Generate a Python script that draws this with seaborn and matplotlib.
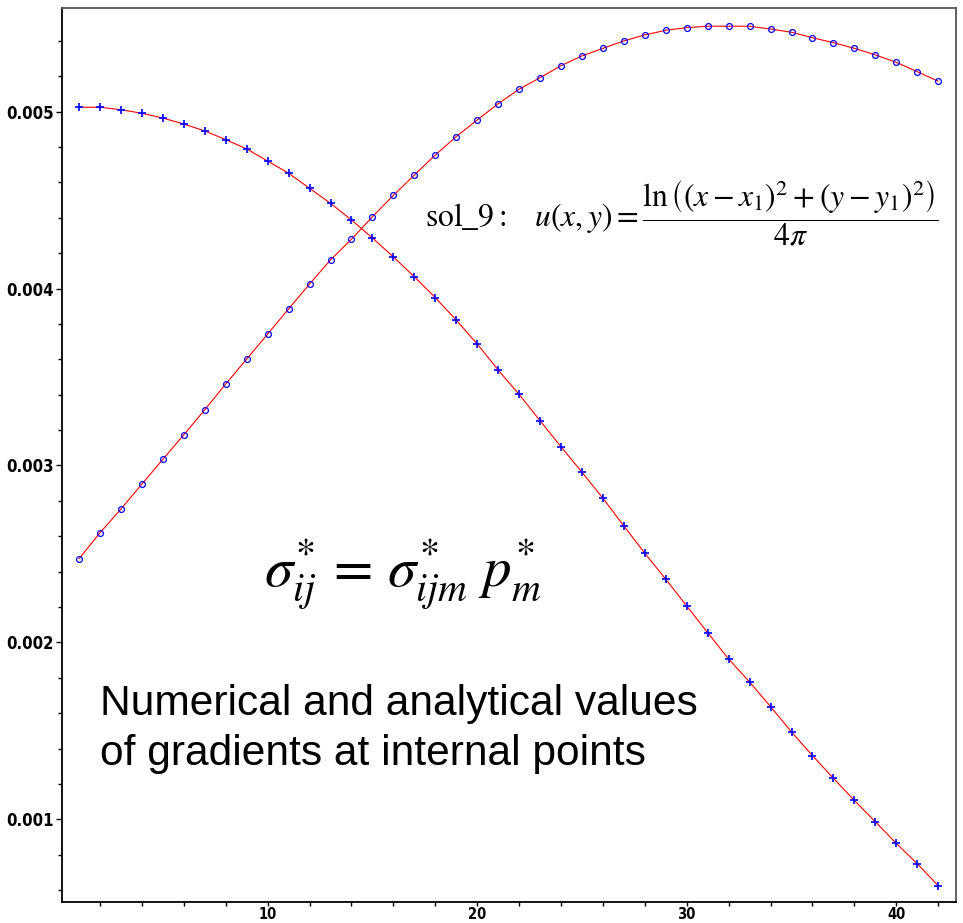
import numpy as np
import pandas as pd
import matplotlib
matplotlib.use("Agg")
import matplotlib.pyplot as plt
from matplotlib.ticker import MultipleLocator, FixedLocator
import seaborn as sns

# ---- data ----
points = list(range(1, 43))
numerical_a = [0.002473, 0.002620, 0.002754, 0.002895, 0.003035, 0.003174, 0.003315,
               0.003461, 0.003602, 0.003743, 0.003885, 0.004026, 0.004162, 0.004279,
               0.004406, 0.004527, 0.004642, 0.004755, 0.004859, 0.004953, 0.005045,
               0.005127, 0.005192, 0.005260, 0.005315, 0.005358, 0.005400, 0.005434,
               0.005460, 0.005475, 0.005483, 0.005483, 0.005483, 0.005467, 0.005449,
               0.005418, 0.005390, 0.005358, 0.005321, 0.005279, 0.005226, 0.005172]
numerical_b = [0.005025, 0.005025, 0.005011, 0.004991, 0.004964, 0.004930, 0.004891,
               0.004842, 0.004789, 0.004721, 0.004652, 0.004567, 0.004482, 0.004388,
               0.004286, 0.004179, 0.004067, 0.003949, 0.003822, 0.003687, 0.003540,
               0.003402, 0.003253, 0.003106, 0.002962, 0.002815, 0.002658, 0.002504,
               0.002357, 0.002206, 0.002055, 0.001906, 0.001776, 0.001637, 0.001494,
               0.001360, 0.001232, 0.001107, 0.000986, 0.000864, 0.000749, 0.000625]
analytical_a = list(numerical_a)
analytical_b = list(numerical_b)

x_ticks = [10, 20, 30, 40]
y_ticks = [0.001, 0.002, 0.003, 0.004, 0.005]
y_tick_labels = ["0.001", "0.002", "0.003", "0.004", "0.005"]

sns.set_style("ticks")

W, H = 963, 923
fig = plt.figure(figsize=(W / 100, H / 100), dpi=100)
left, right, top, bottom = 62.3, 956.0, 8.0, 902.3
ax = fig.add_axes([left / W, 1 - bottom / H, (right - left) / W, (bottom - top) / H])

# analytical curves (red lines)
sns.lineplot(x=points, y=analytical_a, ax=ax, color="#ff0000", linewidth=0.8, zorder=2)
sns.lineplot(x=points, y=analytical_b, ax=ax, color="#ff0000", linewidth=0.8, zorder=2)
# numerical values (blue markers)
sns.lineplot(x=points, y=numerical_a, ax=ax, linestyle="", marker="o", markersize=4.2,
             markerfacecolor="none", markeredgecolor="#0000ff", markeredgewidth=0.9, zorder=3)
sns.lineplot(x=points, y=numerical_b, ax=ax, linestyle="", marker="+", markersize=6,
             markeredgecolor="#0000ff", color="#0000ff", markeredgewidth=1.2, zorder=3)

ax.set_xlim(0.2, 42.85)
ax.set_ylim(0.000531, 0.005586)

ax.xaxis.set_major_locator(FixedLocator(x_ticks))
ax.xaxis.set_minor_locator(MultipleLocator(2))
ax.yaxis.set_major_locator(FixedLocator(y_ticks))
ax.yaxis.set_minor_locator(MultipleLocator(0.0002))
ax.set_yticklabels(y_tick_labels)

tick_font = ["Liberation Sans Narrow", "DejaVu Sans"]
for lab in ax.get_xticklabels() + ax.get_yticklabels():
    lab.set_family(tick_font)
    lab.set_fontstretch("condensed")
    lab.set_fontweight("bold")
    lab.set_color("black")
for lab in ax.get_yticklabels():
    lab.set_fontsize(12)
for lab in ax.get_xticklabels():
    lab.set_fontsize(10.5)

ax.tick_params(axis="y", which="major", direction="out", length=4, width=1.0,
               color="black", pad=2)
ax.tick_params(axis="x", which="major", direction="out", length=3, width=1.0,
               color="black", pad=0.5)
ax.tick_params(axis="both", which="minor", direction="out", length=3, width=1.0,
               color="black")
ax.set_xlabel("")
ax.set_ylabel("")

for s in ["left", "bottom"]:
    ax.spines[s].set_color("black")
    ax.spines[s].set_linewidth(1.3)
for s in ["top", "right"]:
    ax.spines[s].set_visible(True)
    ax.spines[s].set_color("#555555")
    ax.spines[s].set_linewidth(1.3)

# annotations
ax.text(0.406, 0.770,
        r"$\mathrm{sol\_9:}\quad u(x,y)=\dfrac{\ln\left((x-x_1)^2+(y-y_1)^2\right)}{4\pi}$",
        transform=ax.transAxes, ha="left", va="center", fontsize=22.8,
        math_fontfamily="stix", color="black")
ax.text(0.381, 0.366, r"$\sigma^{*}_{ij}\,=\,\sigma^{*}_{ijm}\ p^{*}_{m}$",
        transform=ax.transAxes, ha="center", va="center", fontsize=41,
        math_fontfamily="stix", color="black")
ax.text(0.0422, 0.2094, "Numerical and analytical values", transform=ax.transAxes,
        ha="left", va="baseline", fontsize=30.6, color="black",
        family=["Liberation Sans", "DejaVu Sans"])
ax.text(0.0422, 0.1535, "of gradients at internal points", transform=ax.transAxes,
        ha="left", va="baseline", fontsize=30.6, color="black",
        family=["Liberation Sans", "DejaVu Sans"])

fig.savefig("out.png", dpi=100)
